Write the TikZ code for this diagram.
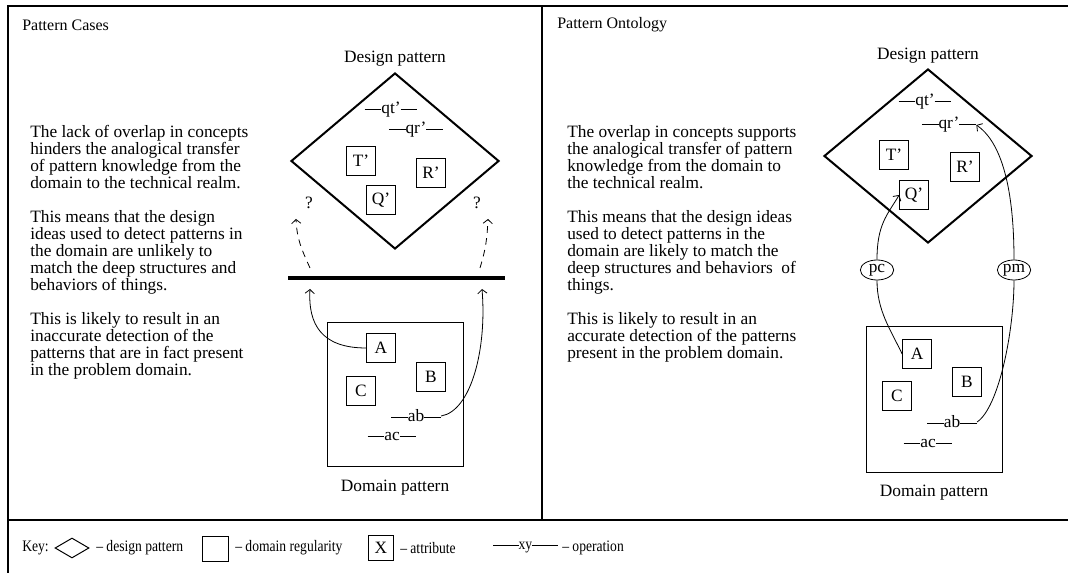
\documentclass[tikz,border=0pt]{standalone}
\usepackage{fontspec}
\setmainfont{Liberation Serif}
\newfontfamily\keyfont[FakeStretch=0.85]{Liberation Serif}
\usepackage{tikz}
\usetikzlibrary{arrows.meta, positioning, shapes.geometric}

% operation label: rule, name, rule
\newcommand{\opname}[2][12.5pt]{\rule[0.25em]{#1}{0.5pt}#2\rule[0.25em]{#1}{0.5pt}}

\begin{document}
\begin{tikzpicture}[
  x=0.75pt, y=-0.75pt,
  font=\fontsize{13}{12.75}\selectfont,
  ttl/.style={anchor=west, inner sep=0pt, font=\fontsize{12}{12.75}\selectfont},
  para/.style={align=left, anchor=north west, inner sep=0pt},
  dpat/.style={draw, diamond, line width=1.5pt, inner sep=0pt, minimum width=156pt},
  dreg/.style={draw, line width=0.75pt, inner sep=0pt, minimum width=102pt},
  attr/.style={draw, line width=0.75pt, inner sep=0pt, minimum size=21.5pt},
  oper/.style={inner sep=0pt},
  role/.style={draw, ellipse, line width=0.6pt, inner sep=0pt, minimum width=25pt, minimum height=15pt},
  keyitem/.style={anchor=west, inner sep=0pt, font=\keyfont\fontsize{12}{12.75}\selectfont},
  arr/.style={-{Straight Barb[length=3pt,width=7pt]}, line width=0.6pt},
  guess/.style={arr, dash pattern=on 5pt off 4pt}
]
  \useasboundingbox (0,0) rectangle (1068,573);

  % frame
  \draw[line width=1pt] (8,573) -- (8,6) -- (1068,6);
  \draw[line width=1pt] (8,520) -- (1068,520);
  \draw[line width=1pt] (542,6) -- (542,520);

  % ---- pattern cases ----
  \node[ttl] (ttlL) at (22,25) {Pattern Cases};
  \node[para] (txtL) at (30,125) {The lack of overlap in concepts\\
    hinders the analogical transfer\\
    of pattern knowledge from the\\
    domain to the technical realm.\\[12.75pt]
    This means that the design\\
    ideas used to detect patterns in\\
    the domain are unlikely to\\
    match the deep structures and\\
    behaviors of things.\\[12.75pt]
    This is likely to result in an\\
    inaccurate detection of the\\
    patterns that are in fact present\\
    in the problem domain.};

  \node[dpat, minimum height=132pt] (dpL) at (395,161) {};
  \node[above=1pt of dpL] (dpLlbl) {Design pattern};
  \node[oper] (qtL) at (391,110) {\opname{qt’}};
  \node[oper] (qrL) at (416,130) {\opname{qr’}};
  \node[attr] (tL) at (361,161) {T’};
  \node[attr] (rL) at (431,173) {R’};
  \node[attr] (qL) at (381,200) {Q’};
  \node (unkL) at (309,203) {?};
  \node (unkR) at (477,203) {?};

  \coordinate (barW) at (288,278);
  \coordinate (barE) at (505,278);
  \draw[line width=3pt] (barW) -- (barE);
  \coordinate (gapL) at (310,268);
  \coordinate (gapR) at (480,268);
  \coordinate (tipL) at (296,219);
  \coordinate (tipR) at (488,219);
  \coordinate (hitL) at (310,289);
  \coordinate (hitR) at (482,289);
  \draw[guess] (gapL) .. controls +(-9,-20) and +(1,20) .. (tipL);
  \draw[guess] (gapR) .. controls +(6,-20) and +(-1,20) .. (tipR);

  \node[dreg, minimum height=108pt] (drL) at (395,395) {};
  \node[below=6pt of drL] (drLlbl) {Domain pattern};
  \node[attr] (aL) at (381,348) {A};
  \node[attr] (bL) at (431,377) {B};
  \node[attr] (cL) at (361,391) {C};
  \node[oper] (abL) at (416,416) {\opname{ab}};
  \node[oper] (acL) at (392,437) {\opname{ac}};
  \draw[arr] (aL.west) .. controls +(-45,0) and +(-2,35) .. (hitL);
  \draw[arr] (abL.east) .. controls +(30,-5) and +(5,60) .. (hitR);

  % ---- pattern ontology ----
  \node[ttl] (ttlR) at (557,25) {Pattern Ontology};
  \node[para] (txtR) at (567,125) {The overlap in concepts supports\\
    the analogical transfer of pattern\\
    knowledge from the domain to\\
    the technical realm.\\[12.75pt]
    This means that the design ideas\\
    used to detect patterns in the\\
    domain are likely to match the\\
    deep structures and behaviors\ \ of\\
    things.\\[12.75pt]
    This is likely to result in an\\
    accurate detection of the patterns\\
    present in the problem domain.};

  \node[dpat, minimum height=130.5pt] (dpR) at (928,156) {};
  \node[above=0pt of dpR] (dpRlbl) {Design pattern};
  \node[oper] (qtR) at (925,102) {\opname{qt’}};
  \node[oper] (qrR) at (949,125) {\opname{qr’}};
  \node[attr] (tR) at (894,155) {T’};
  \node[attr] (rR) at (965,167) {R’};
  \node[attr] (qR) at (914,195) {Q’};

  \node[role] (pc) at (877,270) {pc};
  \node[role] (pm) at (1014,270) {pm};

  \node[dreg, minimum height=109.5pt] (drR) at (934,400) {};
  \node[below=5pt of drR] (drRlbl) {Domain pattern};
  \node[attr] (aR) at (917,354) {A};
  \node[attr] (bR) at (967,382) {B};
  \node[attr] (cR) at (897,396) {C};
  \node[oper] (abR) at (952,422) {\opname{ab}};
  \node[oper] (acR) at (928,444) {\opname{ac}};

  \draw[line width=0.6pt] (aR.west) .. controls +(-12,-25) and +(0,30) .. (pc.south);
  \draw[arr] (pc.north) .. controls +(0,-35) and +(-12,20) .. (qR.west);
  \draw[line width=0.6pt] (abR.east) .. controls +(22,-15) and +(0,50) .. (pm.south);
  \draw[arr] (pm.north) .. controls +(0,-80) and +(22,15) .. (qrR.east);

  % ---- key ----
  \node[keyitem] (keyLbl) at (22,548) {Key:};
  \node[draw, diamond, line width=0.75pt, inner sep=0pt, minimum width=25.5pt, minimum height=15pt] (keyDp) at (72,548) {};
  \node[keyitem] (keyDpTxt) at (96,548) {–\ design pattern};
  \node[draw, line width=0.75pt, inner sep=0pt, minimum width=19.5pt, minimum height=18pt] (keyDr) at (215,549) {};
  \node[keyitem] (keyDrTxt) at (235,548) {–\ domain regularity};
  \node[attr, minimum size=19pt, font=\fontsize{13}{13}\selectfont] (keyAt) at (381,548) {X};
  \node[keyitem] (keyAtTxt) at (400,548) {–\ attribute};
  \node[keyitem] (keyOp) at (493,548) {\opname[19pt]{xy}};
  \node[keyitem] (keyOpTxt) at (562,548) {–\ operation};
\end{tikzpicture}
\end{document}
